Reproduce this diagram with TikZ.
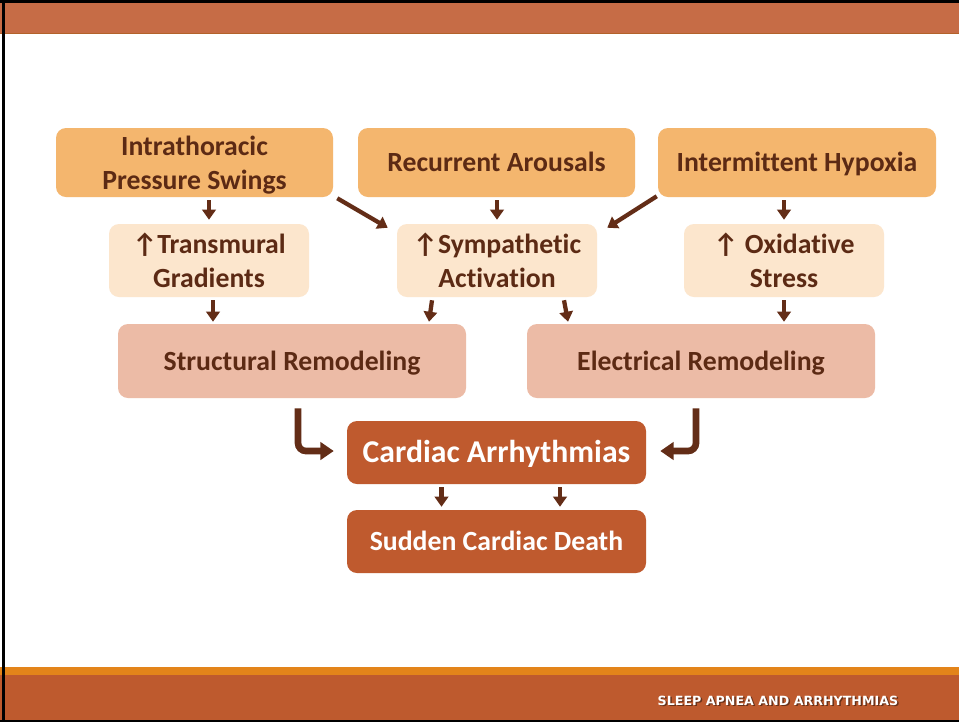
\documentclass[tikz,border=0pt]{standalone}
\usepackage{fontspec}
\setmainfont{Carlito}[Ligatures=NoCommon]
\newfontfamily\titlefont{DejaVu Sans}
\usetikzlibrary{arrows.meta,calc}
\definecolor{topbar}{HTML}{C66C46}
\definecolor{topline}{HTML}{B3622A}
\definecolor{boxA}{HTML}{F4B66E}
\definecolor{boxB}{HTML}{FCE6CD}
\definecolor{boxC}{HTML}{ECBBA6}
\definecolor{boxD}{HTML}{BF5A2E}
\definecolor{arrowc}{HTML}{632D17}
\definecolor{textc}{HTML}{5C2A14}
\definecolor{strip}{HTML}{E3841A}
\definecolor{botbar}{HTML}{BE5A2E}
\tikzset{
  basebox/.style={inner sep=0pt, rounded corners=7.5pt, align=center, font=\bfseries\fontsize{20.8}{25.3}\selectfont},
  oneline/.style={text height=13.6pt, text depth=0pt},
  boxa/.style={basebox, fill=boxA, text=textc},
  boxb/.style={basebox, fill=boxB, text=textc},
  boxc/.style={basebox, fill=boxC, text=textc},
  boxd/.style={basebox, fill=boxD, text=white},
  arr/.style={draw=arrowc, line width=3.2pt, -{Triangle[width=10pt,length=7.5pt]}},
  elb/.style={draw=arrowc, line width=5pt, rounded corners=6pt, -{Triangle[width=13pt,length=10pt]}},
}
\begin{document}
\begin{tikzpicture}[x=0.75pt,y=-0.75pt]
\useasboundingbox (0,0) rectangle (959,722);
\fill[white] (0,0) rectangle (959,722);
% frame and bars
\fill[topbar] (0,3) rectangle (959,33);
\fill[topline] (0,32.5) rectangle (959,34);
\fill[strip] (0,667) rectangle (959,675);
\fill[botbar] (0,675) rectangle (959,720);
\fill[black] (0,0) rectangle (959,3);
\fill[black] (0,720) rectangle (959,722);
\fill[black] (2,0) rectangle (5,722);
% boxes
\node[boxa, minimum width=277*0.75pt, minimum height=69*0.75pt] (ip) at (194.5,162.5) {\rule{0pt}{18pt}Intrathoracic\\Pressure Swings};
\node[boxa, oneline, minimum width=277*0.75pt, minimum height=69*0.75pt] (ra) at (496.5,162.5) {Recurrent Arousals};
\node[boxa, oneline, minimum width=278*0.75pt, minimum height=69*0.75pt] (ih) at (797,162.5) {Intermittent Hypoxia};
\node[boxb, minimum width=200*0.75pt, minimum height=73*0.75pt] (tg) at (209,260.5) {↑Transmural\\Gradients};
\node[boxb, minimum width=200*0.75pt, minimum height=73*0.75pt] (sa) at (497,260.5) {↑Sympathetic\\Activation};
\node[boxb, minimum width=200*0.75pt, minimum height=73*0.75pt] (os) at (784,260.5) {↑ Oxidative\\Stress};
\node[boxc, oneline, minimum width=348*0.75pt, minimum height=74*0.75pt] (sr) at (292,361) {Structural Remodeling};
\node[boxc, oneline, minimum width=348*0.75pt, minimum height=74*0.75pt] (er) at (701,361) {Electrical Remodeling};
\node[boxd, minimum width=299*0.75pt, minimum height=63*0.75pt, font=\bfseries\fontsize{23.8}{28}\selectfont, text height=15.2pt, text depth=0pt] (ca) at (496.5,452.5) {Cardiac Arrhythmias};
\node[boxd, oneline, minimum width=299*0.75pt, minimum height=63*0.75pt] (sd) at (496.5,541.5) {Sudden Cardiac Death};
% arrows
\draw[arr] ($(tg.north |- ip.south)+(0,3)$) -- ($(tg.north)+(0,-4)$);
\draw[arr] ($(ip.south east)+(4,1)$) -- ($(sa.north west)+(-9,4)$);
\draw[arr] ($(sa.north |- ra.south)+(0,3)$) -- ($(sa.north)+(0,-4)$);
\draw[arr] ($(ih.south west)+(-1,-1)$) -- ($(sa.north east)+(10,4)$);
\draw[arr] ($(os.north |- ih.south)+(0,3)$) -- ($(os.north)+(0,-4)$);
\draw[arr] ($(tg.south)+(4,3)$) -- ($(tg.south |- sr.north)+(4,-2)$);
\draw[arr] ($(sa.south)+(-65,3)$) -- ($(sa.south |- sr.north)+(-68,-2)$);
\draw[arr] ($(sa.south)+(67,3)$) -- ($(sa.south |- er.north)+(71,-2)$);
\draw[arr] ($(os.south)+(0,3)$) -- ($(os.south |- er.north)+(0,-2)$);
\draw[elb] ($(sr.south)+(6,10)$) |- ($(ca.west)+(-13,-1.5)$);
\draw[elb] ($(er.south)+(-5,10)$) |- ($(ca.east)+(14,-1.5)$);
\draw[arr] ($(ca.south)+(-55,3)$) -- ($(ca.south |- sd.north)+(-55,-3)$);
\draw[arr] ($(ca.south)+(63.5,3)$) -- ($(ca.south |- sd.north)+(63.5,-3)$);
% footer title
\node[text=black, opacity=0.45, font=\titlefont\bfseries\fontsize{9.5}{11}\selectfont] (tshadow) at (779.5,702) {SLEEP APNEA AND ARRHYTHMIAS};
\node[text=white, font=\titlefont\bfseries\fontsize{9.5}{11}\selectfont] (title) at (778,700.5) {SLEEP APNEA AND ARRHYTHMIAS};
\end{tikzpicture}
\end{document}
